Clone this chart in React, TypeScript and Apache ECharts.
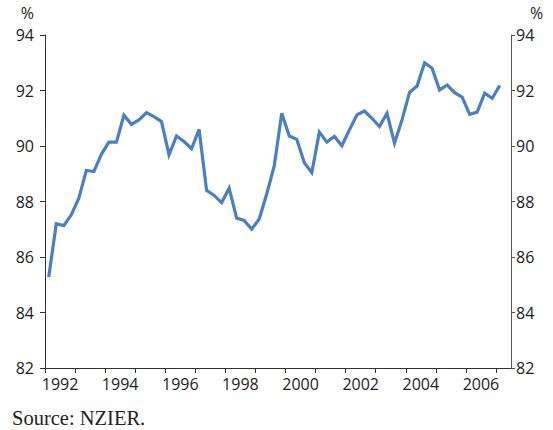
import React, { useEffect, useRef } from "react";
import * as echarts from "echarts";

// Quarterly series, 1992 Q1 to 2007 Q1 (per cent)
const startYear = 1992;
const values: number[] = [
  85.28, 87.2, 87.13, 87.52, 88.12, 89.12, 89.08, 89.7,
  90.14, 90.14, 91.11, 90.78, 90.94, 91.2, 91.06, 90.88,
  89.68, 90.36, 90.16, 89.9, 90.6, 88.4, 88.22, 87.96,
  88.48, 87.4, 87.32, 87.0, 87.37, 88.27, 89.28, 91.18,
  90.36, 90.24, 89.4, 89.04, 90.5, 90.14, 90.34, 90.01,
  90.58, 91.12, 91.26, 91.0, 90.7, 91.18, 90.1, 90.94,
  91.93, 92.16, 93.0, 92.8, 92.02, 92.2, 91.92, 91.76,
  91.14, 91.22, 91.9, 91.72, 92.18,
];
const yearTicks: number[] = [
  1992, 1993, 1994, 1995, 1996, 1997, 1998, 1999,
  2000, 2001, 2002, 2003, 2004, 2005, 2006, 2007,
];
const yearLabels: number[] = [1992, 1994, 1996, 1998, 2000, 2002, 2004, 2006];
const source = "Source: NZIER.";

export default function App() {
  const ref = useRef<HTMLDivElement>(null);
  useEffect(() => {
    if (!ref.current) return;
    const chart = echarts.init(ref.current, null, { renderer: "svg" });
    const data = values.map((v, i) => [startYear + (i + 0.5) / 4, v]);
    const font = "Open Sans";
    const axisColor = "#333";
    const labelStyle = { color: "#222", fontSize: 16, fontFamily: font };
    chart.setOption({
      animation: false,
      backgroundColor: "#fff",
      title: {
        text: source,
        left: 12,
        top: 407,
        padding: 0,
        textStyle: {
          fontFamily: "Liberation Serif",
          fontWeight: "normal",
          fontSize: 20.5,
          color: "#222",
        },
      },
      grid: { left: 45, right: 42, top: 35, bottom: 62, containLabel: false },
      xAxis: {
        type: "value",
        min: 1992,
        max: 2007.5,
        splitLine: { show: false },
        axisLine: { show: true, onZero: false, lineStyle: { color: axisColor, width: 1 } },
        axisTick: {
          show: true,
          length: 5,
          customValues: yearTicks,
          lineStyle: { color: axisColor },
        },
        axisLabel: {
          ...labelStyle,
          margin: 8,
          customValues: yearLabels.map((y) => y + 0.5),
          formatter: (v: number) => String(Math.floor(v)),
        },
      },
      yAxis: [
        {
          type: "value",
          position: "left",
          min: 82,
          max: 94,
          interval: 2,
          name: "%",
          nameLocation: "end",
          nameGap: 14,
          nameTextStyle: { ...labelStyle, align: "right", padding: [0, 11, 0, 0] },
          splitLine: { show: false },
          axisLine: { show: true, lineStyle: { color: axisColor, width: 1 } },
          axisTick: { show: true, length: 5, lineStyle: { color: axisColor } },
          axisLabel: { ...labelStyle, margin: 11 },
        },
        {
          type: "value",
          position: "right",
          min: 82,
          max: 94,
          interval: 2,
          name: "%",
          nameLocation: "end",
          nameGap: 14,
          nameTextStyle: { ...labelStyle, align: "left", padding: [0, 0, 0, 19] },
          splitLine: { show: false },
          axisLine: { show: true, lineStyle: { color: "#555", width: 1 } },
          axisTick: { show: true, length: 4, lineStyle: { color: "#555" } },
          axisLabel: { ...labelStyle, margin: 5 },
        },
      ],
      series: [
        {
          type: "line",
          data,
          yAxisIndex: 0,
          showSymbol: false,
          symbol: "none",
          lineStyle: { color: "#4a7fc1", width: 3.2, join: "miter" },
        },
      ],
    });
    return () => chart.dispose();
  }, []);
  return <div ref={ref} style={{ width: 553, height: 430, position: "absolute", left: 0, top: 0 }} />;
}
